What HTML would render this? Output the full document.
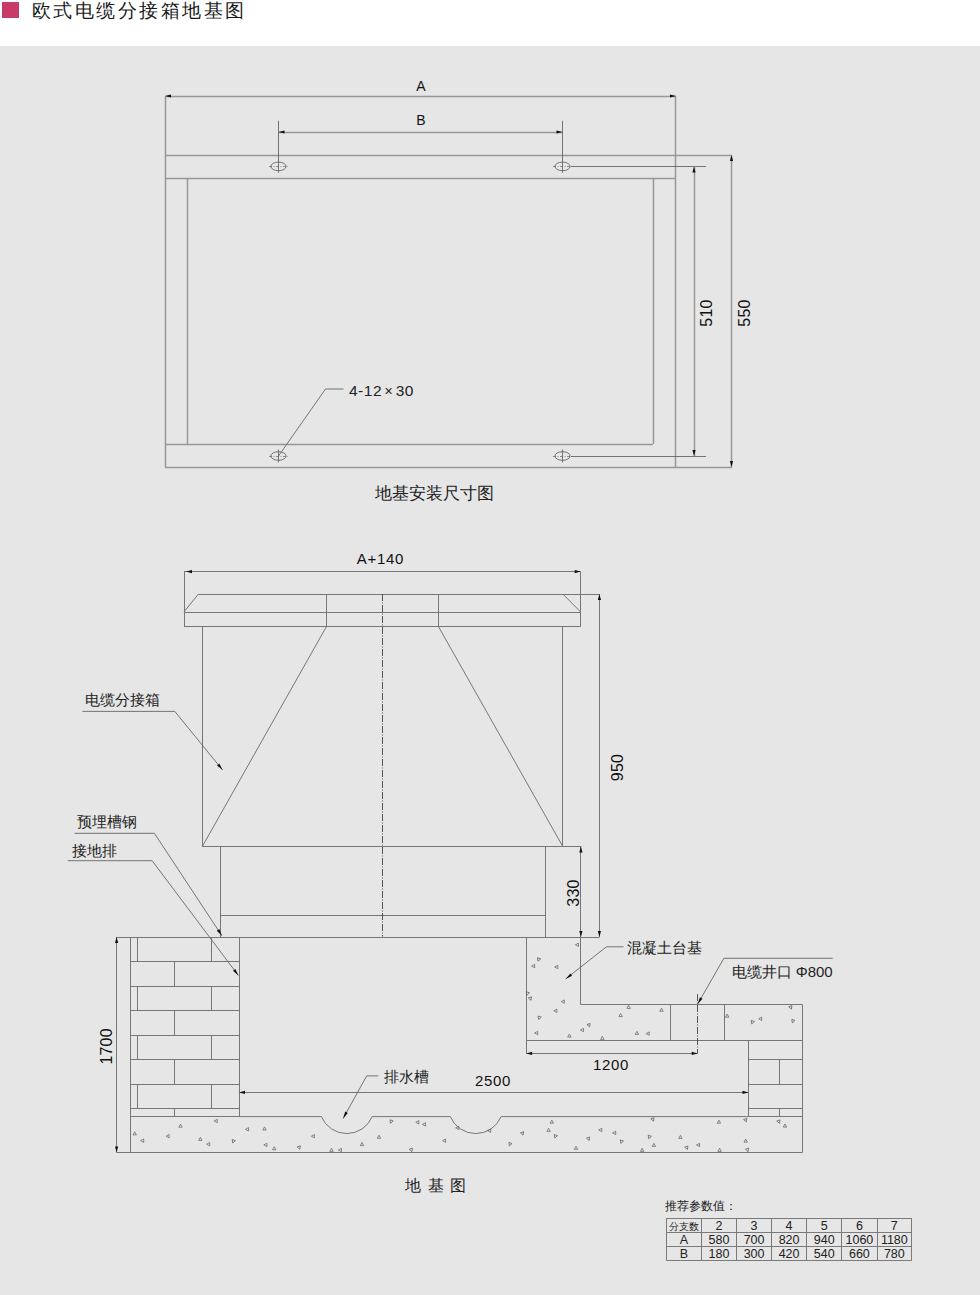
<!DOCTYPE html>
<html><head><meta charset="utf-8"><style>
html,body{margin:0;padding:0;}
body{width:980px;height:1295px;position:relative;overflow:hidden;background:#e6e6e6;font-family:"Liberation Sans",sans-serif;}
#hdr{position:absolute;left:0;top:0;width:980px;height:46px;background:#fff;}
#sq{position:absolute;left:2px;top:2px;width:16.5px;height:16px;background:#c93a69;}
#title{position:absolute;left:31.5px;top:-1.3px;font-size:19px;line-height:24px;color:#1a1a1a;letter-spacing:2.5px;white-space:nowrap;}
svg{position:absolute;left:0;top:0;}
svg text{font-family:"Liberation Sans",sans-serif;}
</style></head><body>
<div id="hdr"><div id="sq"></div><div id="title">欧式电缆分接箱地基图</div></div>
<svg width="980" height="1295" viewBox="0 0 980 1295">
<line x1="165.5" y1="96" x2="165.5" y2="467" stroke="#979797" stroke-width="1.5"/>
<line x1="675.5" y1="96" x2="675.5" y2="467" stroke="#979797" stroke-width="1.5"/>
<line x1="165" y1="155.5" x2="732" y2="155.5" stroke="#979797" stroke-width="1.5"/>
<line x1="165" y1="467.5" x2="732" y2="467.5" stroke="#979797" stroke-width="1.5"/>
<line x1="165" y1="178.5" x2="676" y2="178.5" stroke="#979797" stroke-width="1.5"/>
<line x1="165" y1="444.5" x2="653" y2="444.5" stroke="#979797" stroke-width="1.5"/>
<line x1="187.5" y1="178" x2="187.5" y2="444" stroke="#979797" stroke-width="1.5"/>
<line x1="653.5" y1="178" x2="653.5" y2="444" stroke="#979797" stroke-width="1.5"/>
<line x1="165" y1="96.5" x2="676" y2="96.5" stroke="#979797" stroke-width="1.5"/>
<polygon points="165.0,96.0 171.0,94.4 171.0,97.6" fill="#111"/>
<polygon points="676.0,96.0 670.0,97.6 670.0,94.4" fill="#111"/>
<line x1="278.5" y1="132.5" x2="562.5" y2="132.5" stroke="#979797" stroke-width="1.5"/>
<polygon points="278.5,132.0 284.5,130.4 284.5,133.6" fill="#111"/>
<polygon points="562.5,132.0 556.5,133.6 556.5,130.4" fill="#111"/>
<line x1="278.5" y1="120.7" x2="278.5" y2="172.8" stroke="#666" stroke-width="0.9"/>
<line x1="562.5" y1="120.7" x2="562.5" y2="172.8" stroke="#666" stroke-width="0.9"/>
<ellipse cx="278.5" cy="166.4" rx="7.6" ry="4.3" fill="none" stroke="#666" stroke-width="0.9"/>
<line x1="269.0" y1="166.5" x2="288.0" y2="166.5" stroke="#666" stroke-width="0.7" stroke-dasharray="3 1.5 1 1.5"/>
<ellipse cx="562.5" cy="166.4" rx="7.6" ry="4.3" fill="none" stroke="#666" stroke-width="0.9"/>
<line x1="553.0" y1="166.5" x2="572.0" y2="166.5" stroke="#666" stroke-width="0.7" stroke-dasharray="3 1.5 1 1.5"/>
<ellipse cx="278.5" cy="456" rx="7.6" ry="4.3" fill="none" stroke="#666" stroke-width="0.9"/>
<line x1="269.0" y1="456.5" x2="288.0" y2="456.5" stroke="#666" stroke-width="0.7" stroke-dasharray="3 1.5 1 1.5"/>
<line x1="278.5" y1="449.5" x2="278.5" y2="462.5" stroke="#666" stroke-width="0.9"/>
<ellipse cx="562.5" cy="456" rx="7.6" ry="4.3" fill="none" stroke="#666" stroke-width="0.9"/>
<line x1="553.0" y1="456.5" x2="572.0" y2="456.5" stroke="#666" stroke-width="0.7" stroke-dasharray="3 1.5 1 1.5"/>
<line x1="562.5" y1="449.5" x2="562.5" y2="462.5" stroke="#666" stroke-width="0.9"/>
<line x1="571" y1="166.5" x2="706" y2="166.5" stroke="#666" stroke-width="0.9"/>
<line x1="571" y1="456.5" x2="706" y2="456.5" stroke="#666" stroke-width="0.9"/>
<line x1="694.5" y1="166.4" x2="694.5" y2="456" stroke="#979797" stroke-width="1.5"/>
<polygon points="694.0,166.4 695.6,172.4 692.4,172.4" fill="#111"/>
<polygon points="694.0,456.0 692.4,450.0 695.6,450.0" fill="#111"/>
<line x1="731.5" y1="155" x2="731.5" y2="467" stroke="#979797" stroke-width="1.5"/>
<polygon points="731.5,155.0 733.1,161.0 729.9,161.0" fill="#111"/>
<polygon points="731.5,467.0 729.9,461.0 733.1,461.0" fill="#111"/>
<text x="421" y="91" font-size="14" text-anchor="middle" fill="#111">A</text>
<text x="421" y="124.5" font-size="14" text-anchor="middle" fill="#111">B</text>
<text x="711.5" y="313" font-size="16" text-anchor="middle" fill="#111" transform="rotate(-90 711.5 313)" letter-spacing="0.2">510</text>
<text x="749.5" y="313" font-size="16" text-anchor="middle" fill="#111" transform="rotate(-90 749.5 313)" letter-spacing="0.2">550</text>
<polyline points="278.5,456 325.5,389 343.5,389" fill="none" stroke="#666" stroke-width="0.9"/>
<text x="349" y="396.3" font-size="15.5" text-anchor="start" fill="#222" letter-spacing="0.5">4-12<tspan font-size="14" dx="2.5">×</tspan><tspan dx="2.5">30</tspan></text>
<text x="434" y="499" font-size="16.5" text-anchor="middle" fill="#222">地基安装尺寸图</text>
<line x1="184" y1="571.5" x2="580.7" y2="571.5" stroke="#767676" stroke-width="1"/>
<polygon points="186.0,571.6 192.0,570.0 192.0,573.2" fill="#111"/>
<polygon points="580.7,571.6 574.7,573.2 574.7,570.0" fill="#111"/>
<line x1="184.5" y1="571.6" x2="184.5" y2="626.3" stroke="#767676" stroke-width="1"/>
<line x1="580.5" y1="571.6" x2="580.5" y2="626.3" stroke="#767676" stroke-width="1"/>
<text x="380.5" y="563.6" font-size="15" text-anchor="middle" fill="#111" letter-spacing="0.7">A+140</text>
<line x1="198.5" y1="594.5" x2="600" y2="594.5" stroke="#767676" stroke-width="1"/>
<line x1="198.5" y1="594" x2="184" y2="611.8" stroke="#767676" stroke-width="1"/>
<line x1="562.8" y1="594" x2="580.7" y2="612" stroke="#767676" stroke-width="1"/>
<line x1="184" y1="612.5" x2="580.7" y2="612.5" stroke="#767676" stroke-width="1"/>
<line x1="184" y1="626.5" x2="580.7" y2="626.5" stroke="#767676" stroke-width="1"/>
<line x1="326.5" y1="594" x2="326.5" y2="626.3" stroke="#767676" stroke-width="1"/>
<line x1="438.5" y1="594" x2="438.5" y2="626.3" stroke="#767676" stroke-width="1"/>
<line x1="202.5" y1="626.3" x2="202.5" y2="846.5" stroke="#767676" stroke-width="1"/>
<line x1="562.5" y1="626.3" x2="562.5" y2="846.5" stroke="#767676" stroke-width="1"/>
<line x1="326.6" y1="626.3" x2="202.3" y2="846.5" stroke="#767676" stroke-width="1"/>
<line x1="438.3" y1="626.3" x2="562.8" y2="846.5" stroke="#767676" stroke-width="1"/>
<line x1="202.3" y1="846.5" x2="581.5" y2="846.5" stroke="#767676" stroke-width="1"/>
<line x1="220.5" y1="846.5" x2="220.5" y2="937" stroke="#767676" stroke-width="1"/>
<line x1="545.5" y1="846.5" x2="545.5" y2="937" stroke="#767676" stroke-width="1"/>
<line x1="220" y1="915.5" x2="545" y2="915.5" stroke="#767676" stroke-width="1"/>
<line x1="382.5" y1="594" x2="382.5" y2="936.5" stroke="#444" stroke-width="0.9" stroke-dasharray="7 1.5 1 1.5"/>
<line x1="116.6" y1="937.5" x2="599.4" y2="937.5" stroke="#767676" stroke-width="1"/>
<line x1="599.5" y1="594" x2="599.5" y2="937" stroke="#767676" stroke-width="1"/>
<polygon points="599.4,594.0 601.0,600.0 597.8,600.0" fill="#111"/>
<polygon points="599.4,937.0 597.8,931.0 601.0,931.0" fill="#111"/>
<line x1="580.5" y1="846.5" x2="580.5" y2="937" stroke="#767676" stroke-width="1"/>
<polygon points="580.9,846.5 582.5,852.5 579.3,852.5" fill="#111"/>
<polygon points="580.9,937.0 579.3,931.0 582.5,931.0" fill="#111"/>
<text x="622.5" y="767.5" font-size="16" text-anchor="middle" fill="#111" transform="rotate(-90 622.5 767.5)" letter-spacing="0.2">950</text>
<text x="579.2" y="893" font-size="16" text-anchor="middle" fill="#111" transform="rotate(-90 579.2 893)" letter-spacing="0.2">330</text>
<line x1="130.5" y1="937" x2="130.5" y2="1152.5" stroke="#767676" stroke-width="1"/>
<line x1="239.5" y1="937" x2="239.5" y2="1116.4" stroke="#767676" stroke-width="1"/>
<line x1="130.5" y1="961.5" x2="239" y2="961.5" stroke="#767676" stroke-width="1"/>
<line x1="130.5" y1="986.5" x2="239" y2="986.5" stroke="#767676" stroke-width="1"/>
<line x1="130.5" y1="1010.5" x2="239" y2="1010.5" stroke="#767676" stroke-width="1"/>
<line x1="130.5" y1="1035.5" x2="239" y2="1035.5" stroke="#767676" stroke-width="1"/>
<line x1="130.5" y1="1059.5" x2="239" y2="1059.5" stroke="#767676" stroke-width="1"/>
<line x1="130.5" y1="1084.5" x2="239" y2="1084.5" stroke="#767676" stroke-width="1"/>
<line x1="130.5" y1="1108.5" x2="239" y2="1108.5" stroke="#767676" stroke-width="1"/>
<line x1="130.5" y1="1116.5" x2="239" y2="1116.5" stroke="#767676" stroke-width="1"/>
<line x1="137.5" y1="937" x2="137.5" y2="961.7" stroke="#767676" stroke-width="1"/>
<line x1="211.5" y1="937" x2="211.5" y2="961.7" stroke="#767676" stroke-width="1"/>
<line x1="174.5" y1="961.7" x2="174.5" y2="986.4" stroke="#767676" stroke-width="1"/>
<line x1="137.5" y1="986.4" x2="137.5" y2="1010.7" stroke="#767676" stroke-width="1"/>
<line x1="211.5" y1="986.4" x2="211.5" y2="1010.7" stroke="#767676" stroke-width="1"/>
<line x1="174.5" y1="1010.7" x2="174.5" y2="1035.4" stroke="#767676" stroke-width="1"/>
<line x1="137.5" y1="1035.4" x2="137.5" y2="1059.3" stroke="#767676" stroke-width="1"/>
<line x1="211.5" y1="1035.4" x2="211.5" y2="1059.3" stroke="#767676" stroke-width="1"/>
<line x1="174.5" y1="1059.3" x2="174.5" y2="1084" stroke="#767676" stroke-width="1"/>
<line x1="137.5" y1="1084" x2="137.5" y2="1108.2" stroke="#767676" stroke-width="1"/>
<line x1="211.5" y1="1084" x2="211.5" y2="1108.2" stroke="#767676" stroke-width="1"/>
<line x1="174.5" y1="1108.2" x2="174.5" y2="1116.4" stroke="#767676" stroke-width="1"/>
<line x1="116.5" y1="937" x2="116.5" y2="1152.5" stroke="#767676" stroke-width="1"/>
<polygon points="116.6,937.0 118.2,943.0 115.0,943.0" fill="#111"/>
<polygon points="116.6,1152.5 115.0,1146.5 118.2,1146.5" fill="#111"/>
<line x1="116.6" y1="1152.5" x2="802.4" y2="1152.5" stroke="#767676" stroke-width="1"/>
<text x="111.6" y="1046.4" font-size="16" text-anchor="middle" fill="#111" transform="rotate(-90 111.6 1046.4)" letter-spacing="0.2">1700</text>
<path d="M239,1116.6 L321.40000000000003,1116.6 A27.5,27.5 0 0 0 372.2,1116.6 L450.3,1116.6 A27.5,27.5 0 0 0 501.09999999999997,1116.6 L748.5,1116.6" fill="none" stroke="#767676" stroke-width="1"/>
<line x1="130.5" y1="1116.5" x2="239" y2="1116.5" stroke="#767676" stroke-width="1"/>
<line x1="748.5" y1="1116.5" x2="802.4" y2="1116.5" stroke="#767676" stroke-width="1"/>
<line x1="526.5" y1="937" x2="526.5" y2="1053.4" stroke="#767676" stroke-width="1"/>
<line x1="580.5" y1="937" x2="580.5" y2="1004.6" stroke="#767676" stroke-width="1"/>
<line x1="580.7" y1="1004.5" x2="802.4" y2="1004.5" stroke="#767676" stroke-width="1"/>
<line x1="802.5" y1="1004.6" x2="802.5" y2="1152.5" stroke="#767676" stroke-width="1"/>
<line x1="526.1" y1="1040.5" x2="802.4" y2="1040.5" stroke="#767676" stroke-width="1"/>
<line x1="670.5" y1="1004.6" x2="670.5" y2="1040.6" stroke="#767676" stroke-width="1"/>
<line x1="724.5" y1="1004.6" x2="724.5" y2="1040.6" stroke="#767676" stroke-width="1"/>
<line x1="697.5" y1="994" x2="697.5" y2="1053.8" stroke="#444" stroke-width="0.9" stroke-dasharray="7 1.5 1 1.5"/>
<line x1="526.1" y1="1053.5" x2="697.7" y2="1053.5" stroke="#767676" stroke-width="1"/>
<polygon points="526.1,1053.4 532.1,1051.8 532.1,1055.0" fill="#111"/>
<polygon points="697.7,1053.4 691.7,1055.0 691.7,1051.8" fill="#111"/>
<text x="611" y="1070" font-size="15" text-anchor="middle" fill="#111" letter-spacing="0.7">1200</text>
<line x1="748.5" y1="1040.6" x2="748.5" y2="1116.6" stroke="#767676" stroke-width="1"/>
<line x1="748.5" y1="1059.5" x2="802.4" y2="1059.5" stroke="#767676" stroke-width="1"/>
<line x1="748.5" y1="1084.5" x2="802.4" y2="1084.5" stroke="#767676" stroke-width="1"/>
<line x1="748.5" y1="1108.5" x2="802.4" y2="1108.5" stroke="#767676" stroke-width="1"/>
<line x1="779.5" y1="1059.7" x2="779.5" y2="1084.4" stroke="#767676" stroke-width="1"/>
<line x1="779.5" y1="1108.4" x2="779.5" y2="1116.6" stroke="#767676" stroke-width="1"/>
<line x1="239" y1="1092.5" x2="748.5" y2="1092.5" stroke="#767676" stroke-width="1"/>
<polygon points="239.0,1092.4 245.0,1090.8 245.0,1094.0" fill="#111"/>
<polygon points="748.5,1092.4 742.5,1094.0 742.5,1090.8" fill="#111"/>
<text x="493" y="1086" font-size="15" text-anchor="middle" fill="#111" letter-spacing="0.7">2500</text>
<polyline points="82.4,711.4 174.8,711.4 222.6,770" fill="none" stroke="#666" stroke-width="0.9"/>
<polygon points="222.6,770.0 217.0,765.5 219.3,763.6" fill="#111"/>
<text x="84.5" y="704.5" font-size="15" text-anchor="start" fill="#222">电缆分接箱</text>
<polyline points="74.5,833.3 154.4,833.3 221.9,935.7" fill="none" stroke="#666" stroke-width="0.9"/>
<polygon points="221.9,935.7 216.8,930.7 219.3,929.0" fill="#111"/>
<text x="76.5" y="827" font-size="15" text-anchor="start" fill="#222">预埋槽钢</text>
<polyline points="67.8,860.7 152.1,860.7 238.4,975.5" fill="none" stroke="#666" stroke-width="0.9"/>
<polygon points="238.4,975.5 233.0,970.8 235.4,969.0" fill="#111"/>
<text x="71.5" y="856" font-size="15" text-anchor="start" fill="#222">接地排</text>
<polyline points="378.4,1075.9 366.7,1075.9 343.1,1118.5" fill="none" stroke="#666" stroke-width="0.9"/>
<polygon points="343.1,1118.5 345.2,1111.6 347.8,1113.1" fill="#111"/>
<text x="384" y="1082" font-size="15" text-anchor="start" fill="#222">排水槽</text>
<polyline points="623.6,946.8 606.4,946.8 565.7,978.9" fill="none" stroke="#666" stroke-width="0.9"/>
<polygon points="565.7,978.9 570.3,973.4 572.1,975.7" fill="#111"/>
<text x="626.5" y="953" font-size="15" text-anchor="start" fill="#222">混凝土台基</text>
<polyline points="832.7,958.3 723.9,958.3 697.7,1004" fill="none" stroke="#666" stroke-width="0.9"/>
<polygon points="697.7,1004.0 699.9,997.2 702.5,998.7" fill="#111"/>
<text x="731.5" y="977" font-size="15" text-anchor="start" fill="#222">电缆井口 Φ800</text>
<text x="436" y="1191" font-size="16" text-anchor="middle" fill="#222" letter-spacing="0.9">地&#160;基&#160;图</text>
<polygon points="-1.7,1.4 1.7,1.4 0,-1.7" fill="none" stroke="#666" stroke-width="0.75" transform="translate(134.7 1133.5) rotate(0)"/>
<polygon points="-1.7,1.4 1.7,1.4 0,-1.7" fill="none" stroke="#666" stroke-width="0.75" transform="translate(142.3 1140.7) rotate(-90)"/>
<polygon points="-1.7,1.4 1.7,1.4 0,-1.7" fill="none" stroke="#666" stroke-width="0.75" transform="translate(167.7 1136.2) rotate(-90)"/>
<polygon points="-1.7,1.4 1.7,1.4 0,-1.7" fill="none" stroke="#666" stroke-width="0.75" transform="translate(180.5 1125.8) rotate(0)"/>
<polygon points="-1.7,1.4 1.7,1.4 0,-1.7" fill="none" stroke="#666" stroke-width="0.75" transform="translate(200.3 1139) rotate(0)"/>
<polygon points="-1.7,1.4 1.7,1.4 0,-1.7" fill="none" stroke="#666" stroke-width="0.75" transform="translate(208.3 1144.2) rotate(-90)"/>
<polygon points="-1.7,1.4 1.7,1.4 0,-1.7" fill="none" stroke="#666" stroke-width="0.75" transform="translate(215.9 1121) rotate(-90)"/>
<polygon points="-1.7,1.4 1.7,1.4 0,-1.7" fill="none" stroke="#666" stroke-width="0.75" transform="translate(233.3 1141.4) rotate(200)"/>
<polygon points="-1.7,1.4 1.7,1.4 0,-1.7" fill="none" stroke="#666" stroke-width="0.75" transform="translate(247.1 1129.3) rotate(-90)"/>
<polygon points="-1.7,1.4 1.7,1.4 0,-1.7" fill="none" stroke="#666" stroke-width="0.75" transform="translate(264.5 1128.6) rotate(0)"/>
<polygon points="-1.7,1.4 1.7,1.4 0,-1.7" fill="none" stroke="#666" stroke-width="0.75" transform="translate(265.5 1144.9) rotate(-90)"/>
<polygon points="-1.7,1.4 1.7,1.4 0,-1.7" fill="none" stroke="#666" stroke-width="0.75" transform="translate(274.2 1148.4) rotate(0)"/>
<polygon points="-1.7,1.4 1.7,1.4 0,-1.7" fill="none" stroke="#666" stroke-width="0.75" transform="translate(299.2 1147.7) rotate(160)"/>
<polygon points="-1.7,1.4 1.7,1.4 0,-1.7" fill="none" stroke="#666" stroke-width="0.75" transform="translate(313.1 1136.2) rotate(-90)"/>
<polygon points="-1.7,1.4 1.7,1.4 0,-1.7" fill="none" stroke="#666" stroke-width="0.75" transform="translate(331.5 1150) rotate(0)"/>
<polygon points="-1.7,1.4 1.7,1.4 0,-1.7" fill="none" stroke="#666" stroke-width="0.75" transform="translate(340.1 1150) rotate(-90)"/>
<polygon points="-1.7,1.4 1.7,1.4 0,-1.7" fill="none" stroke="#666" stroke-width="0.75" transform="translate(362 1144.2) rotate(0)"/>
<polygon points="-1.7,1.4 1.7,1.4 0,-1.7" fill="none" stroke="#666" stroke-width="0.75" transform="translate(379 1136.9) rotate(0)"/>
<polygon points="-1.7,1.4 1.7,1.4 0,-1.7" fill="none" stroke="#666" stroke-width="0.75" transform="translate(391.1 1121.7) rotate(200)"/>
<polygon points="-1.7,1.4 1.7,1.4 0,-1.7" fill="none" stroke="#666" stroke-width="0.75" transform="translate(417.5 1122.3) rotate(-90)"/>
<polygon points="-1.7,1.4 1.7,1.4 0,-1.7" fill="none" stroke="#666" stroke-width="0.75" transform="translate(424.1 1124.4) rotate(-90)"/>
<polygon points="-1.7,1.4 1.7,1.4 0,-1.7" fill="none" stroke="#666" stroke-width="0.75" transform="translate(411.3 1150) rotate(160)"/>
<polygon points="-1.7,1.4 1.7,1.4 0,-1.7" fill="none" stroke="#666" stroke-width="0.75" transform="translate(444.2 1140.7) rotate(-90)"/>
<polygon points="-1.7,1.4 1.7,1.4 0,-1.7" fill="none" stroke="#666" stroke-width="0.75" transform="translate(457.4 1127.9) rotate(-90)"/>
<polygon points="-1.7,1.4 1.7,1.4 0,-1.7" fill="none" stroke="#666" stroke-width="0.75" transform="translate(489.3 1130.7) rotate(-90)"/>
<polygon points="-1.7,1.4 1.7,1.4 0,-1.7" fill="none" stroke="#666" stroke-width="0.75" transform="translate(510 1144.3) rotate(200)"/>
<polygon points="-1.7,1.4 1.7,1.4 0,-1.7" fill="none" stroke="#666" stroke-width="0.75" transform="translate(522.5 1133.6) rotate(160)"/>
<polygon points="-1.7,1.4 1.7,1.4 0,-1.7" fill="none" stroke="#666" stroke-width="0.75" transform="translate(548.6 1130) rotate(0)"/>
<polygon points="-1.7,1.4 1.7,1.4 0,-1.7" fill="none" stroke="#666" stroke-width="0.75" transform="translate(551.8 1121.8) rotate(0)"/>
<polygon points="-1.7,1.4 1.7,1.4 0,-1.7" fill="none" stroke="#666" stroke-width="0.75" transform="translate(555.4 1136.4) rotate(200)"/>
<polygon points="-1.7,1.4 1.7,1.4 0,-1.7" fill="none" stroke="#666" stroke-width="0.75" transform="translate(576 1147.9) rotate(0)"/>
<polygon points="-1.7,1.4 1.7,1.4 0,-1.7" fill="none" stroke="#666" stroke-width="0.75" transform="translate(588.6 1138.9) rotate(160)"/>
<polygon points="-1.7,1.4 1.7,1.4 0,-1.7" fill="none" stroke="#666" stroke-width="0.75" transform="translate(600.4 1130) rotate(-90)"/>
<polygon points="-1.7,1.4 1.7,1.4 0,-1.7" fill="none" stroke="#666" stroke-width="0.75" transform="translate(614.3 1132.9) rotate(-90)"/>
<polygon points="-1.7,1.4 1.7,1.4 0,-1.7" fill="none" stroke="#666" stroke-width="0.75" transform="translate(621.4 1141.8) rotate(200)"/>
<polygon points="-1.7,1.4 1.7,1.4 0,-1.7" fill="none" stroke="#666" stroke-width="0.75" transform="translate(642.1 1150) rotate(0)"/>
<polygon points="-1.7,1.4 1.7,1.4 0,-1.7" fill="none" stroke="#666" stroke-width="0.75" transform="translate(649.3 1137.1) rotate(200)"/>
<polygon points="-1.7,1.4 1.7,1.4 0,-1.7" fill="none" stroke="#666" stroke-width="0.75" transform="translate(652.9 1119.6) rotate(160)"/>
<polygon points="-1.7,1.4 1.7,1.4 0,-1.7" fill="none" stroke="#666" stroke-width="0.75" transform="translate(653.9 1145) rotate(0)"/>
<polygon points="-1.7,1.4 1.7,1.4 0,-1.7" fill="none" stroke="#666" stroke-width="0.75" transform="translate(680.4 1137.1) rotate(0)"/>
<polygon points="-1.7,1.4 1.7,1.4 0,-1.7" fill="none" stroke="#666" stroke-width="0.75" transform="translate(686.8 1147.9) rotate(160)"/>
<polygon points="-1.7,1.4 1.7,1.4 0,-1.7" fill="none" stroke="#666" stroke-width="0.75" transform="translate(698.2 1145) rotate(-90)"/>
<polygon points="-1.7,1.4 1.7,1.4 0,-1.7" fill="none" stroke="#666" stroke-width="0.75" transform="translate(718.9 1121.8) rotate(0)"/>
<polygon points="-1.7,1.4 1.7,1.4 0,-1.7" fill="none" stroke="#666" stroke-width="0.75" transform="translate(719.6 1150) rotate(0)"/>
<polygon points="-1.7,1.4 1.7,1.4 0,-1.7" fill="none" stroke="#666" stroke-width="0.75" transform="translate(745.7 1120.3) rotate(160)"/>
<polygon points="-1.7,1.4 1.7,1.4 0,-1.7" fill="none" stroke="#666" stroke-width="0.75" transform="translate(745.7 1140.7) rotate(0)"/>
<polygon points="-1.7,1.4 1.7,1.4 0,-1.7" fill="none" stroke="#666" stroke-width="0.75" transform="translate(747.5 1150) rotate(160)"/>
<polygon points="-1.7,1.4 1.7,1.4 0,-1.7" fill="none" stroke="#666" stroke-width="0.75" transform="translate(778.9 1121.8) rotate(160)"/>
<polygon points="-1.7,1.4 1.7,1.4 0,-1.7" fill="none" stroke="#666" stroke-width="0.75" transform="translate(785 1125.7) rotate(0)"/>
<polygon points="-1.7,1.4 1.7,1.4 0,-1.7" fill="none" stroke="#666" stroke-width="0.75" transform="translate(577.1 944.8) rotate(-90)"/>
<polygon points="-1.7,1.4 1.7,1.4 0,-1.7" fill="none" stroke="#666" stroke-width="0.75" transform="translate(533.3 966.1) rotate(-90)"/>
<polygon points="-1.7,1.4 1.7,1.4 0,-1.7" fill="none" stroke="#666" stroke-width="0.75" transform="translate(538.6 959.6) rotate(200)"/>
<polygon points="-1.7,1.4 1.7,1.4 0,-1.7" fill="none" stroke="#666" stroke-width="0.75" transform="translate(556.4 967) rotate(-90)"/>
<polygon points="-1.7,1.4 1.7,1.4 0,-1.7" fill="none" stroke="#666" stroke-width="0.75" transform="translate(527.4 993.6) rotate(200)"/>
<polygon points="-1.7,1.4 1.7,1.4 0,-1.7" fill="none" stroke="#666" stroke-width="0.75" transform="translate(530.4 998.7) rotate(160)"/>
<polygon points="-1.7,1.4 1.7,1.4 0,-1.7" fill="none" stroke="#666" stroke-width="0.75" transform="translate(562.9 1001.6) rotate(-90)"/>
<polygon points="-1.7,1.4 1.7,1.4 0,-1.7" fill="none" stroke="#666" stroke-width="0.75" transform="translate(555.5 1010.8) rotate(-90)"/>
<polygon points="-1.7,1.4 1.7,1.4 0,-1.7" fill="none" stroke="#666" stroke-width="0.75" transform="translate(539.2 1017.9) rotate(200)"/>
<polygon points="-1.7,1.4 1.7,1.4 0,-1.7" fill="none" stroke="#666" stroke-width="0.75" transform="translate(589 1025.3) rotate(160)"/>
<polygon points="-1.7,1.4 1.7,1.4 0,-1.7" fill="none" stroke="#666" stroke-width="0.75" transform="translate(582.1 1030) rotate(-90)"/>
<polygon points="-1.7,1.4 1.7,1.4 0,-1.7" fill="none" stroke="#666" stroke-width="0.75" transform="translate(536.3 1033) rotate(-90)"/>
<polygon points="-1.7,1.4 1.7,1.4 0,-1.7" fill="none" stroke="#666" stroke-width="0.75" transform="translate(569.4 1035.7) rotate(0)"/>
<polygon points="-1.7,1.4 1.7,1.4 0,-1.7" fill="none" stroke="#666" stroke-width="0.75" transform="translate(602.3 1038) rotate(0)"/>
<polygon points="-1.7,1.4 1.7,1.4 0,-1.7" fill="none" stroke="#666" stroke-width="0.75" transform="translate(620.6 1015.2) rotate(0)"/>
<polygon points="-1.7,1.4 1.7,1.4 0,-1.7" fill="none" stroke="#666" stroke-width="0.75" transform="translate(628.6 1007) rotate(0)"/>
<polygon points="-1.7,1.4 1.7,1.4 0,-1.7" fill="none" stroke="#666" stroke-width="0.75" transform="translate(636.9 1033) rotate(0)"/>
<polygon points="-1.7,1.4 1.7,1.4 0,-1.7" fill="none" stroke="#666" stroke-width="0.75" transform="translate(647.8 1033.6) rotate(-90)"/>
<polygon points="-1.7,1.4 1.7,1.4 0,-1.7" fill="none" stroke="#666" stroke-width="0.75" transform="translate(661.5 1009.9) rotate(0)"/>
<polygon points="-1.7,1.4 1.7,1.4 0,-1.7" fill="none" stroke="#666" stroke-width="0.75" transform="translate(727.2 1015.8) rotate(0)"/>
<polygon points="-1.7,1.4 1.7,1.4 0,-1.7" fill="none" stroke="#666" stroke-width="0.75" transform="translate(752.3 1022.3) rotate(200)"/>
<polygon points="-1.7,1.4 1.7,1.4 0,-1.7" fill="none" stroke="#666" stroke-width="0.75" transform="translate(760.3 1018.8) rotate(-90)"/>
<polygon points="-1.7,1.4 1.7,1.4 0,-1.7" fill="none" stroke="#666" stroke-width="0.75" transform="translate(790.8 1007.5) rotate(160)"/>
<polygon points="-1.7,1.4 1.7,1.4 0,-1.7" fill="none" stroke="#666" stroke-width="0.75" transform="translate(792.9 1021.2) rotate(200)"/>
<line x1="666.5" y1="1218.1" x2="666.5" y2="1260.4" stroke="#7a7a7a" stroke-width="1"/>
<line x1="701.5" y1="1218.1" x2="701.5" y2="1260.4" stroke="#7a7a7a" stroke-width="1"/>
<line x1="736.5" y1="1218.1" x2="736.5" y2="1260.4" stroke="#7a7a7a" stroke-width="1"/>
<line x1="771.5" y1="1218.1" x2="771.5" y2="1260.4" stroke="#7a7a7a" stroke-width="1"/>
<line x1="806.5" y1="1218.1" x2="806.5" y2="1260.4" stroke="#7a7a7a" stroke-width="1"/>
<line x1="841.5" y1="1218.1" x2="841.5" y2="1260.4" stroke="#7a7a7a" stroke-width="1"/>
<line x1="877.5" y1="1218.1" x2="877.5" y2="1260.4" stroke="#7a7a7a" stroke-width="1"/>
<line x1="911.5" y1="1218.1" x2="911.5" y2="1260.4" stroke="#7a7a7a" stroke-width="1"/>
<line x1="666.5" y1="1218.5" x2="911.7" y2="1218.5" stroke="#7a7a7a" stroke-width="1"/>
<line x1="666.5" y1="1232.5" x2="911.7" y2="1232.5" stroke="#7a7a7a" stroke-width="1"/>
<line x1="666.5" y1="1246.5" x2="911.7" y2="1246.5" stroke="#7a7a7a" stroke-width="1"/>
<line x1="666.5" y1="1260.5" x2="911.7" y2="1260.5" stroke="#7a7a7a" stroke-width="1"/>
<text x="665" y="1209.5" font-size="12" text-anchor="start" fill="#222">推荐参数值：</text>
<text x="683.9" y="1229.6" font-size="10" text-anchor="middle" fill="#222">分支数</text>
<text x="683.9" y="1243.8" font-size="12.5" text-anchor="middle" fill="#222">A</text>
<text x="683.9" y="1257.9" font-size="12.5" text-anchor="middle" fill="#222">B</text>
<text x="718.95" y="1229.6" font-size="12.5" text-anchor="middle" fill="#222">2</text>
<text x="718.95" y="1243.8" font-size="12.5" text-anchor="middle" fill="#222">580</text>
<text x="718.95" y="1257.9" font-size="12.5" text-anchor="middle" fill="#222">180</text>
<text x="754.1" y="1229.6" font-size="12.5" text-anchor="middle" fill="#222">3</text>
<text x="754.1" y="1243.8" font-size="12.5" text-anchor="middle" fill="#222">700</text>
<text x="754.1" y="1257.9" font-size="12.5" text-anchor="middle" fill="#222">300</text>
<text x="789.1" y="1229.6" font-size="12.5" text-anchor="middle" fill="#222">4</text>
<text x="789.1" y="1243.8" font-size="12.5" text-anchor="middle" fill="#222">820</text>
<text x="789.1" y="1257.9" font-size="12.5" text-anchor="middle" fill="#222">420</text>
<text x="824.2" y="1229.6" font-size="12.5" text-anchor="middle" fill="#222">5</text>
<text x="824.2" y="1243.8" font-size="12.5" text-anchor="middle" fill="#222">940</text>
<text x="824.2" y="1257.9" font-size="12.5" text-anchor="middle" fill="#222">540</text>
<text x="859.4" y="1229.6" font-size="12.5" text-anchor="middle" fill="#222">6</text>
<text x="859.4" y="1243.8" font-size="12.5" text-anchor="middle" fill="#222">1060</text>
<text x="859.4" y="1257.9" font-size="12.5" text-anchor="middle" fill="#222">660</text>
<text x="894.35" y="1229.6" font-size="12.5" text-anchor="middle" fill="#222">7</text>
<text x="894.35" y="1243.8" font-size="12.5" text-anchor="middle" fill="#222">1180</text>
<text x="894.35" y="1257.9" font-size="12.5" text-anchor="middle" fill="#222">780</text>
</svg>
</body></html>
